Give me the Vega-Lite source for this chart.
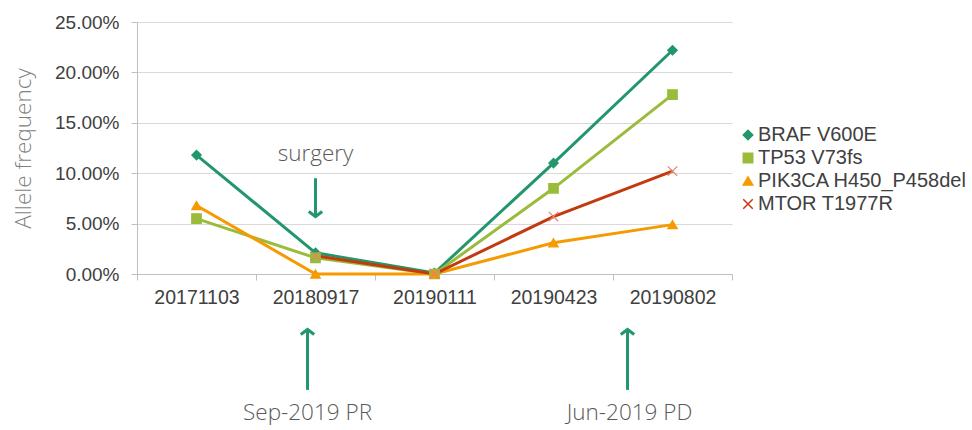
{
  "$schema": "https://vega.github.io/schema/vega-lite/v6.json",
  "width": 595,
  "height": 252,
  "autosize": {"type": "none"},
  "padding": {"left": 137, "top": 22, "right": 240, "bottom": 156},
  "background": "white",
  "config": {"view": {"stroke": null}, "font": "Liberation Sans"},
  "datasets": {
    "af": [
      {"date": "20171103", "gene": "BRAF V600E", "value": 0.118},
      {"date": "20180917", "gene": "BRAF V600E", "value": 0.021},
      {"date": "20190111", "gene": "BRAF V600E", "value": 0.001},
      {"date": "20190423", "gene": "BRAF V600E", "value": 0.110},
      {"date": "20190802", "gene": "BRAF V600E", "value": 0.222},
      {"date": "20171103", "gene": "TP53 V73fs", "value": 0.055},
      {"date": "20180917", "gene": "TP53 V73fs", "value": 0.016},
      {"date": "20190111", "gene": "TP53 V73fs", "value": 0.0},
      {"date": "20190423", "gene": "TP53 V73fs", "value": 0.085},
      {"date": "20190802", "gene": "TP53 V73fs", "value": 0.178},
      {"date": "20171103", "gene": "PIK3CA H450_P458del", "value": 0.068},
      {"date": "20180917", "gene": "PIK3CA H450_P458del", "value": 0.0},
      {"date": "20190111", "gene": "PIK3CA H450_P458del", "value": 0.0},
      {"date": "20190423", "gene": "PIK3CA H450_P458del", "value": 0.031},
      {"date": "20190802", "gene": "PIK3CA H450_P458del", "value": 0.049},
      {"date": "20180917", "gene": "MTOR T1977R", "value": 0.018},
      {"date": "20190111", "gene": "MTOR T1977R", "value": 0.0},
      {"date": "20190423", "gene": "MTOR T1977R", "value": 0.057},
      {"date": "20190802", "gene": "MTOR T1977R", "value": 0.102}
    ]
  },
  "encoding": {
    "x": {
      "field": "date", "type": "nominal",
      "scale": {"domain": ["20171103", "20180917", "20190111", "20190423", "20190802"], "paddingInner": 0, "paddingOuter": 0},
      "axis": {
        "title": null, "labelAngle": 0, "labelFontSize": 19.5, "labelColor": "#404040",
        "domainColor": "#bfbfbf", "tickColor": "#bfbfbf", "tickSize": 6, "tickBand": "extent",
        "labelPadding": 8, "grid": false
      }
    },
    "y": {
      "field": "value", "type": "quantitative",
      "scale": {"domain": [0, 0.25], "nice": false, "zero": true},
      "axis": {
        "title": "Allele frequency", "titleFont": "Open Sans", "titleFontWeight": 300, "titleFontSize": 22.5,
        "titleColor": "#7f7f7f", "titlePadding": 19,
        "format": ".2%", "values": [0, 0.05, 0.1, 0.15, 0.2, 0.25],
        "labelFontSize": 19, "labelColor": "#404040", "labelPadding": 12,
        "domainColor": "#bfbfbf", "tickColor": "#bfbfbf", "tickSize": 6,
        "gridColor": "#d9d9d9"
      }
    },
    "color": {
      "field": "gene", "type": "nominal",
      "scale": {"domain": ["BRAF V600E", "TP53 V73fs", "PIK3CA H450_P458del", "MTOR T1977R"],
                "range": ["#22976b", "#9bbb3b", "#f59a00", "#c23a10"]},
      "legend": {
        "title": null, "orient": "none", "legendX": 601, "legendY": 103,
        "labelFontSize": 20, "labelColor": "#404040", "rowPadding": 3, "labelOffset": 0,
        "symbolSize": 90, "labelLimit": 400
      }
    }
  },
  "layer": [
    {
      "data": {"name": "af"},
      "mark": {"type": "line", "strokeWidth": 3}
    },
    {
      "data": {"name": "af"},
      "mark": {"type": "point", "filled": true, "opacity": 1, "size": 90, "strokeWidth": 1.2},
      "encoding": {
        "shape": {
          "field": "gene", "type": "nominal",
          "scale": {"domain": ["BRAF V600E", "TP53 V73fs", "PIK3CA H450_P458del", "MTOR T1977R"],
                    "range": ["diamond", "square", "triangle-up", "M-1,-1L1,1M-1,1L1,-1"]}
        },
        "stroke": {
          "field": "gene", "type": "nominal",
          "scale": {"domain": ["BRAF V600E", "TP53 V73fs", "PIK3CA H450_P458del", "MTOR T1977R"],
                    "range": ["#22976b", "#9bbb3b", "#f59a00", "#e8826b"]},
          "legend": null
        }
      }
    },
    {
      "data": {"values": [{"date": "20180917", "label": "surgery", "v": 0.119}]},
      "mark": {"type": "text", "font": "Open Sans", "fontWeight": 300, "fontSize": 22.5},
      "encoding": {"y": {"field": "v", "type": "quantitative"}, "text": {"field": "label"}, "color": {"value": "#595959"}}
    },
    {
      "data": {"values": [{"date": "20180917", "v1": 0.095, "v2": 0.058}]},
      "mark": {"type": "rule", "strokeWidth": 3},
      "encoding": {"y": {"field": "v1", "type": "quantitative"}, "y2": {"field": "v2"}, "color": {"value": "#22976b"}}
    },
    {
      "data": {"values": [{"date": "20180917", "v": 0.057}]},
      "mark": {"type": "point", "shape": "M-1,-0.75L0,0L1,-0.75", "size": 180, "filled": false, "opacity": 1, "strokeWidth": 3},
      "encoding": {"y": {"field": "v", "type": "quantitative"}, "color": {"value": "#22976b"}}
    },
    {
      "data": {"values": [{"date": "20180917", "v1": -0.115, "v2": -0.056}]},
      "mark": {"type": "rule", "strokeWidth": 3, "xOffset": -8},
      "encoding": {"y": {"field": "v1", "type": "quantitative"}, "y2": {"field": "v2"}, "color": {"value": "#22976b"}}
    },
    {
      "data": {"values": [{"date": "20180917", "v": -0.055}]},
      "mark": {"type": "point", "shape": "M-1,0.75L0,0L1,0.75", "size": 180, "filled": false, "opacity": 1, "strokeWidth": 3, "xOffset": -8},
      "encoding": {"y": {"field": "v", "type": "quantitative"}, "color": {"value": "#22976b"}}
    },
    {
      "data": {"values": [{"date": "20180917", "label": "Sep-2019 PR", "v": -0.138}]},
      "mark": {"type": "text", "font": "Open Sans", "fontWeight": 300, "fontSize": 22.5, "dx": -8},
      "encoding": {"y": {"field": "v", "type": "quantitative"}, "text": {"field": "label"}, "color": {"value": "#595959"}}
    },
    {
      "data": {"values": [{"date": "20190802", "v1": -0.115, "v2": -0.056}]},
      "mark": {"type": "rule", "strokeWidth": 3, "xOffset": -45},
      "encoding": {"y": {"field": "v1", "type": "quantitative"}, "y2": {"field": "v2"}, "color": {"value": "#22976b"}}
    },
    {
      "data": {"values": [{"date": "20190802", "v": -0.055}]},
      "mark": {"type": "point", "shape": "M-1,0.75L0,0L1,0.75", "size": 180, "filled": false, "opacity": 1, "strokeWidth": 3, "xOffset": -45},
      "encoding": {"y": {"field": "v", "type": "quantitative"}, "color": {"value": "#22976b"}}
    },
    {
      "data": {"values": [{"date": "20190802", "label": "Jun-2019 PD", "v": -0.138}]},
      "mark": {"type": "text", "font": "Open Sans", "fontWeight": 300, "fontSize": 22.5, "dx": -43},
      "encoding": {"y": {"field": "v", "type": "quantitative"}, "text": {"field": "label"}, "color": {"value": "#595959"}}
    }
  ]
}
